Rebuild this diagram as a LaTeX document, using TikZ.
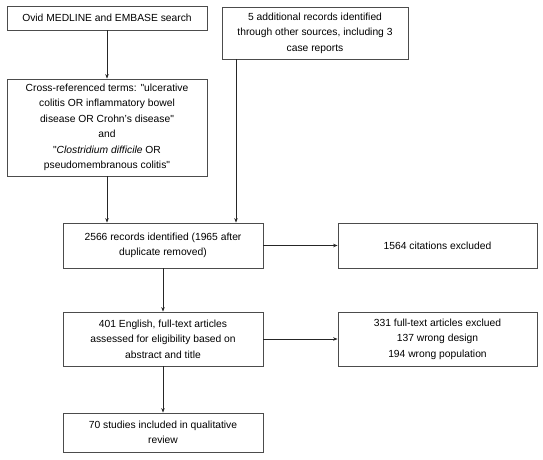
\documentclass[tikz,border=0pt]{standalone}
\usepackage{fontspec}
\setmainfont{Liberation Sans}
\usetikzlibrary{arrows.meta}

\begin{document}
\begin{tikzpicture}[%
        x = 1pt, y = -1pt,
        box/.style = {draw = black!70, line width = 0.8pt, align = center,
            inner sep = 0pt, font = \fontsize{10.3}{15.5}\selectfont},
        arr/.style = {draw = black!85, line width = 0.7pt,
            -{Stealth[length=4.5pt,width=3.5pt]}}
    ]
      \useasboundingbox (0,0) rectangle (543,460);
      % search sources
      \node[box, minimum width=200pt, minimum height=24pt] (ovid) at (107,18)
        {Ovid MEDLINE and EMBASE search};
      \node[box, minimum width=186pt, minimum height=52pt] (other) at (315,33)
        {5 additional records identified\\ through other sources, including 3\\ case reports};
      \node[box, minimum width=200pt, minimum height=97pt] (terms) at (107,127.5)
        {Cross-referenced terms: \textquotedbl ulcerative\\ colitis OR inflammatory bowel\\
         disease OR Crohn’s disease\textquotedbl\\ and\\
         \textquotedbl\textit{Clostridium difficile} OR\\
         pseudomembranous colitis\textquotedbl};
      % screening
      \node[box, minimum width=200pt, minimum height=45pt] (records) at (163,245.5)
        {2566 records identified (1965 after\\ duplicate removed)};
      \node[box, minimum width=199pt, minimum height=45pt] (cited) at (437.5,245.5)
        {1564 citations excluded};
      \node[box, minimum width=200pt, minimum height=54pt] (fulltext) at (163,339)
        {401 English, full-text articles\\ assessed for eligibility based on\\ abstract and title};
      \node[box, minimum width=199pt, minimum height=54pt] (excl) at (437.5,339)
        {331 full-text articles exclued\\ 137 wrong design\\ 194 wrong population};
      \node[box, minimum width=200pt, minimum height=39pt] (incl) at (163,432.5)
        {70 studies included in qualitative\\ review};
      \coordinate (bx) at (236,0);
      % arrows
      \draw[arr] (ovid) -- (terms);
      \draw[arr] (terms.south) -- (terms.south |- records.north);
      \draw[arr] (other.south -| bx) -- (records.north -| bx);
      \draw[arr] (records) -- (cited);
      \draw[arr] (records) -- (fulltext);
      \draw[arr] (fulltext) -- (excl);
      \draw[arr] (fulltext) -- (incl);
    \end{tikzpicture}
\end{document}
